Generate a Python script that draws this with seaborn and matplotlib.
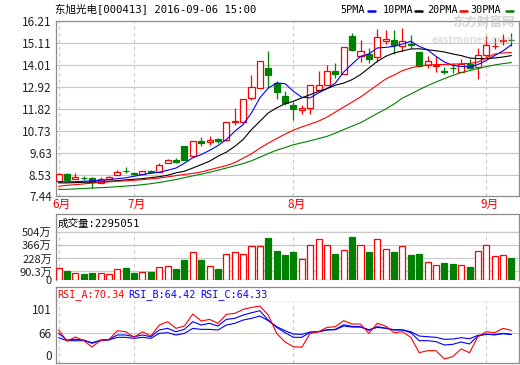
import numpy as np
import pandas as pd
import matplotlib
matplotlib.use("Agg")
import matplotlib.pyplot as plt
from matplotlib.lines import Line2D
import seaborn as sns

# -------------------- Data -------------------- #
opens = [8.20, 8.58, 8.32, 8.38, 8.37, 8.12, 8.32, 8.52, 8.73, 8.61,
         8.55, 8.71, 8.67, 9.12, 9.28, 9.94, 9.45, 10.23, 10.16, 10.33,
         10.28, 11.16, 11.16, 12.36, 12.85, 13.85, 13.10, 12.47, 12.02, 11.74,
         11.86, 12.77, 12.99, 13.72, 13.55, 15.43, 14.43, 14.55, 14.38, 15.22,
         15.26, 14.93, 15.03, 14.65, 14.02, 13.96, 13.70, 13.86, 13.65, 14.05,
         13.88, 14.51, 14.94, 15.18, 15.27]
closes = [8.57, 8.28, 8.40, 8.35, 8.15, 8.32, 8.40, 8.68, 8.70, 8.58,
          8.70, 8.68, 9.03, 9.28, 9.15, 9.28, 10.23, 10.10, 10.28, 10.19,
          11.16, 11.19, 12.31, 12.90, 14.22, 13.48, 12.64, 12.11, 11.82, 11.86,
          12.99, 13.02, 13.68, 13.57, 14.90, 14.76, 14.71, 14.32, 15.38, 15.30,
          14.98, 15.21, 14.99, 13.93, 14.22, 13.99, 13.67, 13.84, 14.05, 13.85,
          14.51, 15.01, 14.97, 15.26, 15.25]
highs = [8.62, 8.60, 8.62, 8.48, 8.40, 8.40, 8.46, 8.75, 8.90, 8.66,
         8.73, 8.78, 9.12, 9.33, 9.36, 9.98, 10.23, 10.40, 10.45, 10.38,
         11.16, 11.86, 12.31, 13.52, 14.22, 14.68, 13.22, 12.70, 12.16, 11.99,
         12.99, 13.72, 14.02, 14.12, 14.90, 15.60, 15.26, 14.85, 15.80, 15.76,
         15.75, 15.85, 15.48, 14.65, 14.46, 14.43, 13.92, 14.10, 14.30, 14.30,
         14.85, 15.46, 15.35, 15.55, 15.60]
lows = [8.20, 8.20, 8.30, 8.25, 7.87, 8.10, 8.30, 8.50, 8.62, 8.52,
        8.53, 8.63, 8.65, 9.10, 9.10, 9.25, 9.40, 9.95, 10.02, 10.12,
        10.22, 10.99, 11.14, 12.24, 12.85, 12.85, 12.31, 12.02, 11.28, 11.57,
        11.57, 12.77, 12.99, 13.33, 13.55, 14.71, 14.13, 14.10, 14.13, 15.05,
        14.55, 14.71, 14.85, 13.90, 13.85, 13.65, 13.55, 13.62, 13.65, 13.80,
        13.32, 14.40, 14.80, 15.00, 14.96]

ma5 = [8.17, 8.17, 8.18, 8.20, 8.22, 8.25, 8.28, 8.33, 8.37, 8.45,
       8.53, 8.60, 8.65, 8.75, 8.86, 9.10, 9.37, 9.53, 9.74, 9.98,
       10.28, 10.69, 11.03, 11.61, 12.36, 12.85, 13.10, 13.07, 12.69, 12.39,
       12.36, 12.61, 12.82, 13.10, 13.65, 14.05, 14.43, 14.55, 14.85, 14.88,
       14.93, 15.05, 15.18, 14.93, 14.76, 14.43, 14.15, 13.98, 13.93, 13.90,
       14.02, 14.23, 14.47, 14.71, 15.01]
ma10 = [8.12, 8.12, 8.13, 8.15, 8.15, 8.17, 8.20, 8.23, 8.27, 8.30,
        8.33, 8.38, 8.43, 8.50, 8.62, 8.70, 8.86, 9.03, 9.20, 9.45,
        9.65, 9.94, 10.28, 10.78, 11.19, 11.61, 11.86, 12.07, 12.19, 12.36,
        12.52, 12.69, 12.82, 12.99, 13.10, 13.27, 13.52, 13.85, 14.18, 14.43,
        14.60, 14.70, 14.80, 14.81, 14.76, 14.71, 14.65, 14.55, 14.47, 14.35,
        14.32, 14.32, 14.35, 14.40, 14.47]
ma20 = [7.95, 8.00, 8.03, 8.07, 8.11, 8.14, 8.17, 8.20, 8.22, 8.25,
        8.28, 8.32, 8.36, 8.42, 8.48, 8.54, 8.59, 8.66, 8.77, 8.88,
        8.98, 9.13, 9.35, 9.57, 9.85, 10.10, 10.33, 10.55, 10.75, 10.91,
        11.05, 11.20, 11.40, 11.65, 11.90, 12.15, 12.40, 12.70, 13.00, 13.30,
        13.50, 13.72, 13.85, 13.95, 14.00, 14.02, 14.03, 14.04, 14.06, 14.08,
        14.15, 14.35, 14.55, 14.60, 14.62]
ma30 = [7.79, 7.80, 7.82, 7.84, 7.86, 7.88, 7.90, 7.93, 7.96, 7.99,
        8.03, 8.08, 8.14, 8.21, 8.29, 8.38, 8.47, 8.55, 8.65, 8.75,
        8.86, 8.97, 9.08, 9.22, 9.40, 9.58, 9.75, 9.88, 10.02, 10.12,
        10.22, 10.33, 10.44, 10.60, 10.78, 10.95, 11.12, 11.35, 11.58, 11.80,
        12.05, 12.35, 12.55, 12.77, 12.97, 13.15, 13.32, 13.48, 13.62, 13.72,
        13.82, 13.92, 14.00, 14.07, 14.12]

# volume in 万 (10k shares)
volume_wan = [131, 97, 75, 67, 75, 75, 67, 116, 131, 75,
              86, 86, 142, 150, 112, 209, 299, 209, 153, 112,
              280, 291, 280, 355, 355, 448, 310, 265, 299, 217,
              366, 429, 366, 280, 318, 459, 366, 299, 429, 329,
              299, 355, 265, 280, 187, 161, 176, 168, 161, 142,
              310, 366, 254, 265, 229.5]

rsi_a = [70.9, 54.8, 60.7, 55.3, 46.1, 55.8, 56.8, 69.9, 68.4, 60.2,
         68.4, 62.1, 78.1, 83.0, 73.3, 76.7, 94.2, 84.0, 86.4, 80.6,
         93.7, 95.2, 101.0, 103.9, 105.8, 92.7, 66.0, 53.4, 46.6, 45.6,
         66.0, 68.4, 74.7, 75.7, 84.5, 79.6, 79.6, 66.0, 80.6, 76.7,
         67.0, 68.4, 60.2, 37.8, 40.7, 40.7, 28.6, 32.0, 43.2, 37.8,
         61.1, 68.4, 67.0, 73.3, 70.34]
rsi_b = [66.0, 56.3, 57.3, 56.3, 51.4, 56.3, 57.3, 63.6, 63.6, 61.1,
         63.6, 61.1, 70.9, 73.3, 68.4, 71.8, 83.0, 78.1, 80.6, 76.7,
         86.4, 87.9, 92.7, 96.1, 99.0, 85.4, 74.7, 67.0, 60.2, 60.2,
         67.5, 68.4, 71.3, 71.8, 78.6, 76.2, 75.7, 70.4, 75.7, 73.8,
         70.9, 70.9, 67.0, 55.3, 55.3, 53.9, 49.0, 50.0, 53.4, 50.5,
         62.1, 65.0, 63.6, 66.0, 64.42]
rsi_c = [59.7, 55.3, 55.3, 55.3, 52.4, 55.3, 56.3, 60.2, 60.2, 58.7,
         60.2, 58.7, 66.0, 67.0, 63.6, 66.0, 73.3, 71.8, 71.8, 70.9,
         78.1, 80.6, 85.4, 87.9, 91.3, 84.5, 75.7, 69.9, 65.0, 64.5,
         67.9, 68.4, 70.9, 71.3, 76.7, 75.2, 75.2, 71.3, 74.7, 73.3,
         71.3, 71.3, 68.4, 62.1, 61.1, 60.2, 57.3, 57.7, 59.7, 58.2,
         63.1, 64.5, 64.5, 65.5, 64.33]

month_labels = ['6月', '7月', '8月', '9月']
month_starts = [0, 9, 28, 51]
price_ticks = [7.44, 8.53, 9.63, 10.73, 11.82, 12.92, 14.01, 15.11, 16.21]
vol_ticks = [0, 90.3, 228, 366, 504]
vol_tick_labels = ['0', '90.3万', '228万', '366万', '504万']
rsi_ticks = [34, 66, 101]
rsi_tick_labels = ['0', '66', '101']

title = '东旭光电[000413] 2016-09-06 15:00'
vol_header = '成交量:2295051'

# -------------------- Style -------------------- #
sns.set_style('white')
plt.rcParams['font.family'] = ['Noto Sans CJK SC', 'DejaVu Sans']
plt.rcParams['axes.unicode_minus'] = False
MONO = ['DejaVu Sans Mono', 'Noto Sans CJK SC']

RED, GREEN, BLUE = '#ff0000', '#008000', '#0000ff'
GRID, FRAME, TXT = '#c8c8c8', '#8c8c8c', '#222222'

df = pd.DataFrame({'idx': np.arange(len(opens)), 'open': opens, 'close': closes,
                   'high': highs, 'low': lows, 'ma5': ma5, 'ma10': ma10,
                   'ma20': ma20, 'ma30': ma30, 'vol': volume_wan,
                   'rsi_a': rsi_a, 'rsi_b': rsi_b, 'rsi_c': rsi_c})
df['up'] = df['close'] >= df['open']
edge = np.where(df['up'], RED, GREEN)
face = np.where(df['up'], 'white', GREEN)

W, H = 520, 365
def fx(px): return px / W
def fy(py): return 1 - py / H

fig = plt.figure(figsize=(5.2, 3.65), dpi=100)
fig.patch.set_facecolor('white')

left, right = 56, 519
xlim = (-0.31, 54.9)


def frame(ax, sides=('left', 'right', 'top', 'bottom')):
    for s, sp in ax.spines.items():
        sp.set_visible(s in sides)
        sp.set_color(FRAME)
        sp.set_linewidth(0.9)


def month_lines(ax):
    for m in month_starts:
        ax.axvline(m, color=GRID, lw=0.8, ls=(0, (3, 3)), zorder=1)


# -------------------- Watermark (behind everything) -------------------- #
fig.text(fx(484), fy(22), '东方财富网', ha='center', va='center', fontsize=9,
         color='#b0b0b0', alpha=0.55, fontweight='bold', zorder=0)
fig.text(fx(473), fy(40), 'eastmoney.com', ha='center', va='center', fontsize=7.5,
         color='#c0c0c0', alpha=0.5, style='italic', fontweight='bold', zorder=0)

# -------------------- Price panel -------------------- #
ax = fig.add_axes([fx(left), fy(196.5), fx(right - left), (196.5 - 20.7) / H])
ax.patch.set_alpha(0)
ax.set_xlim(*xlim)
ax.set_ylim(price_ticks[0], price_ticks[-1])
ax.set_yticks(price_ticks)
ax.set_yticklabels([f'{t:.2f}' for t in price_ticks])
ax.set_xticks([])
for t in price_ticks:
    ax.axhline(t, color=GRID, lw=0.8, zorder=1)
month_lines(ax)

ax.vlines(df['idx'], df['low'], df['high'], colors=edge, lw=0.9, zorder=2)
body_bottom = np.minimum(df['open'], df['close'])
body_h = np.maximum((df['close'] - df['open']).abs(), 0.02)
ax.bar(df['idx'], body_h, bottom=body_bottom, width=0.72, color=face,
       edgecolor=edge, linewidth=0.9, zorder=3)

for col, color in [('ma5', BLUE), ('ma10', 'black'), ('ma20', RED), ('ma30', GREEN)]:
    sns.lineplot(data=df, x='idx', y=col, color=color, lw=0.8, ax=ax, zorder=4)
ax.set_xlabel('')
ax.set_ylabel('')
ax.tick_params(axis='y', length=0, pad=3, labelsize=8.5, labelcolor=TXT)
frame(ax)

for m, lab in zip(month_starts, month_labels):
    ax.text(m + 0.35, -0.043, lab, transform=ax.get_xaxis_transform(),
            ha='center', va='center', color=RED, fontsize=8.5)

# -------------------- Volume panel -------------------- #
axh = fig.add_axes([fx(left), fy(232.3), fx(right - left), 18 / H])
axh.set_xticks([])
axh.set_yticks([])
frame(axh)
axh.text(0.004, 0.5, vol_header, transform=axh.transAxes, ha='left',
         va='center', fontsize=7.6, color='black', family=MONO)

axv = fig.add_axes([fx(left), fy(280), fx(right - left), (280 - 232.3) / H])
axv.set_xlim(*xlim)
axv.set_ylim(0, 504)
axv.set_yticks(vol_ticks)
axv.set_yticklabels(vol_tick_labels)
axv.set_xticks([])
for t in vol_ticks[1:]:
    axv.axhline(t, color=GRID, lw=0.8, zorder=1)
month_lines(axv)
axv.bar(df['idx'], df['vol'], width=0.72, color=face, edgecolor=edge,
        linewidth=0.9, zorder=3)
axv.tick_params(axis='y', length=0, pad=3, labelsize=8, labelcolor=TXT)
frame(axv, sides=('left', 'right'))

# -------------------- RSI panel -------------------- #
axrh = fig.add_axes([fx(left), fy(301.7), fx(right - left), (301.7 - 287) / H])
axrh.set_xticks([])
axrh.set_yticks([])
frame(axrh)
for px, txt, color in [(57, 'RSI_A:70.34', RED), (128, 'RSI_B:64.42', BLUE),
                       (200, 'RSI_C:64.33', BLUE)]:
    fig.text(fx(px), fy(294.5), txt, ha='left', va='center', fontsize=7.3,
             color=color, family=MONO)

axr = fig.add_axes([fx(left), fy(363.3), fx(right - left), (363.3 - 301.7) / H])
axr.set_xlim(*xlim)
axr.set_ylim(22.3, 112.2)
axr.set_yticks(rsi_ticks)
axr.set_yticklabels(rsi_tick_labels)
axr.set_xticks([])
axr.axhline(66, color=GRID, lw=0.8, zorder=1)
month_lines(axr)
for col, color in [('rsi_c', BLUE), ('rsi_b', BLUE), ('rsi_a', RED)]:
    sns.lineplot(data=df, x='idx', y=col, color=color, lw=0.8, ax=axr, zorder=3)
axr.set_xlabel('')
axr.set_ylabel('')
axr.tick_params(axis='y', length=0, pad=3, labelsize=8.5, labelcolor=TXT)
frame(axr, sides=('left', 'right', 'bottom'))

# -------------------- Title and MA legend -------------------- #
fig.text(fx(55), fy(10), title, ha='left', va='center', fontsize=7.6,
         color='black', family=MONO)

legend_items = [('5PMA', 340, BLUE), ('10PMA', 383, 'black'),
                ('20PMA', 427, RED), ('30PMA', 470, GREEN)]
dash_x = [368, 415, 460, 506]
for (lab, px, color), dx in zip(legend_items, dash_x):
    fig.text(fx(px), fy(10), lab, ha='left', va='center', fontsize=7.3,
             color='black', family=MONO)
    fig.add_artist(Line2D([fx(dx), fx(dx + 7)], [fy(11), fy(11)], color=color,
                          lw=1.8, transform=fig.transFigure))

fig.savefig('out.png', dpi=100)
